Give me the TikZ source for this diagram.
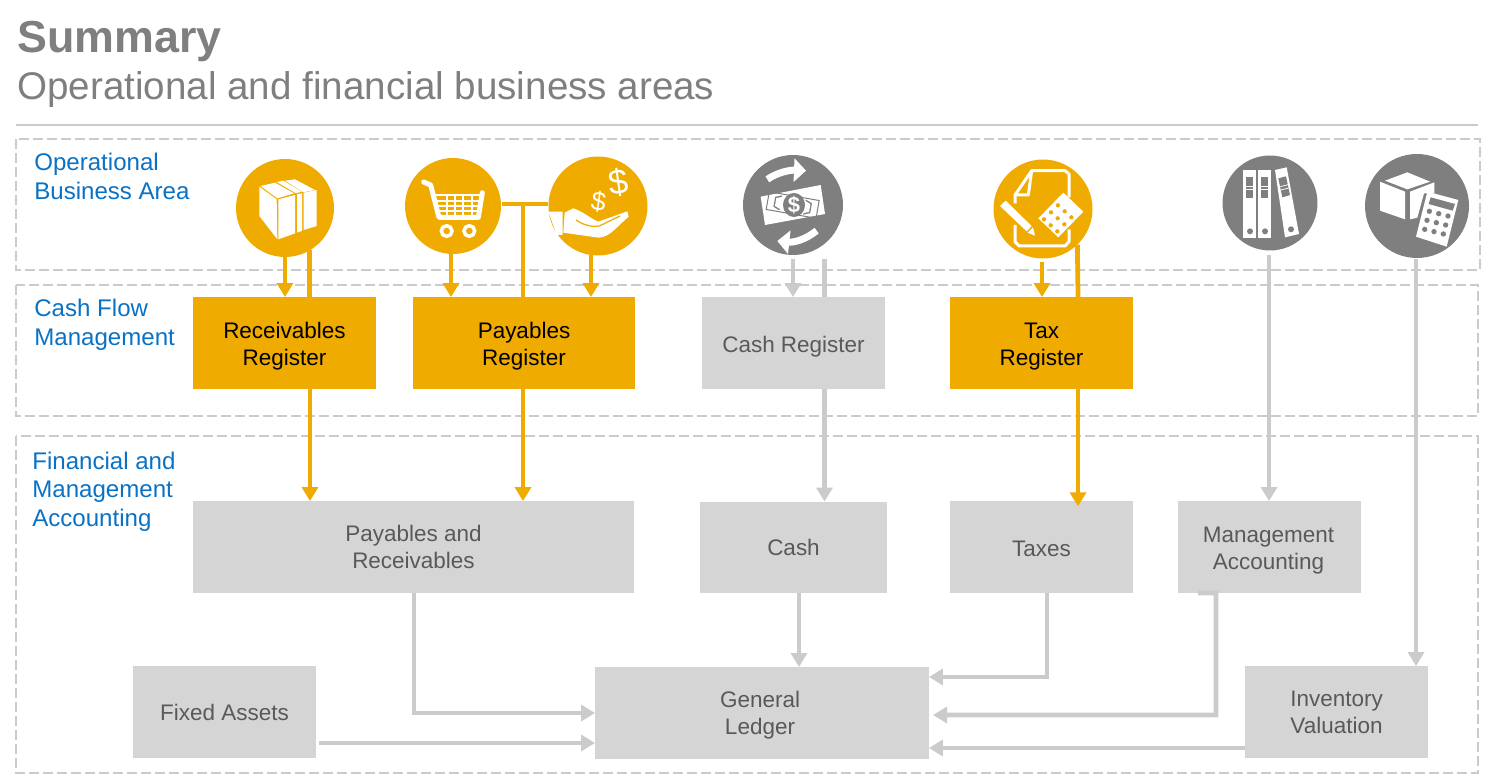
\documentclass[tikz,border=0pt]{standalone}
\usepackage{fontspec}
\setmainfont{Liberation Sans}
\usetikzlibrary{arrows.meta}

\definecolor{sapyellow}{HTML}{F0AB00}
\definecolor{boxgrey}{HTML}{D5D5D5}
\definecolor{linegrey}{HTML}{CBCBCB}
\definecolor{icongrey}{HTML}{7F7F7F}
\definecolor{textgrey}{HTML}{595959}
\definecolor{areablue}{HTML}{0A72C4}
\definecolor{titlegrey}{HTML}{7F7F7F}

\newcommand{\dropline}[1]{\rule{0pt}{#1}}

\tikzset{
  areabox/.style = {draw=linegrey, line width=0.4mm, dash pattern=on 2mm off 0.8mm},
  arealabel/.style = {text=areablue, anchor=west, align=left, inner sep=0, font=\fontsize{13.7}{16.3}\selectfont},
  greybox/.style = {fill=boxgrey, text=textgrey, align=center, inner sep=0, outer sep=0,
    minimum width=36.6mm, minimum height=18.4mm, font=\fontsize{12.8}{15.4}\selectfont},
  yellowbox/.style = {greybox, fill=sapyellow, text=black},
  icon/.style = {circle, inner sep=0, outer sep=0},
  yellowedge/.style = {draw=sapyellow, line width=0.95mm},
  greyedge/.style = {draw=linegrey, line width=0.95mm},
  tip/.style = {-{Triangle[length=2.8mm,width=3.2mm]}},
  glyph/.style = {fill=white, draw=none},
  dollar/.style = {text=white, inner sep=0},
}

\begin{document}
\begin{tikzpicture}[x=0.02cm,y=-0.02cm]
      \useasboundingbox (0,0) rectangle (1500,780);

      % Title
      \node[anchor=base west, inner sep=0, text=titlegrey, font=\fontsize{25.5}{28}\selectfont\bfseries] (title) at (17,53) {Summary};
      \node[anchor=base west, inner sep=0, text=titlegrey, font=\fontsize{21.96}{24}\selectfont] (subtitle) at (17,100) {Operational and financial business areas};
      \coordinate (ruleL) at (16,125);
      \coordinate (ruleR) at (1478,125);
      \draw[draw=linegrey, line width=0.4mm] (ruleL) -- (ruleR);

      % Areas
      \draw[areabox] (16,139) rectangle (1480,270);
      \draw[areabox] (16,285) rectangle (1478,416);
      \draw[areabox] (16,436) rectangle (1478,773);
      \node[arealabel] (oparea) at (34,176.5) {Operational\\Business Area};
      \node[arealabel] (cfarea) at (34,324.5) {Cash Flow\\Management};
      \node[arealabel] (fmarea) at (32,491.5) {Financial and\\Management\\Accounting};

      % Icons
      \node[icon, fill=sapyellow, minimum size=19.6mm] (boxicon) at (285,208) {};
      \node[icon, fill=sapyellow, minimum size=19.2mm] (carticon) at (453,206) {};
      \node[icon, fill=sapyellow, minimum size=19.8mm] (handicon) at (598,206) {};
      \node[icon, fill=icongrey, minimum size=20mm] (cashicon) at (793,205) {};
      \node[icon, fill=sapyellow, minimum size=19.8mm] (taxicon) at (1043,209) {};
      \node[icon, fill=icongrey, minimum size=19mm] (bindericon) at (1270,203) {};
      \node[icon, fill=icongrey, minimum size=20.8mm] (stockicon) at (1417,206) {};

      % Registers
      \node[yellowbox] (recvreg) at (284.5,343) {\dropline{13pt}Receivables\\Register};
      \node[yellowbox, minimum width=44.4mm] (payreg) at (524,343) {\dropline{13pt}Payables\\Register};
      \node[greybox] (cashreg) at (793.5,343) {\dropline{14pt}Cash Register};
      \node[yellowbox] (taxreg) at (1041.5,343) {\dropline{13pt}Tax\\Register};

      % Accounting
      \node[greybox, minimum width=88.2mm] (payrecv) at (413.5,547) {Payables and\\Receivables};
      \node[greybox, minimum width=37.4mm] (cash) at (793.5,547.5) {Cash};
      \node[greybox] (taxes) at (1041.5,547) {\dropline{11pt}Taxes};
      \node[greybox] (mgmt) at (1269.5,547) {\dropline{13pt}\hspace*{-0.4mm}Management\\\hspace*{-0.4mm}Accounting};
      \node[greybox] (fixed) at (224.5,712) {Fixed Assets};
      \node[greybox, minimum width=66.8mm] (ledger) at (762,713) {\dropline{11.3pt}\hspace*{-0.8mm}General\\\hspace*{-0.8mm}Ledger};
      \node[greybox] (stock) at (1336.5,712) {Inventory\\Valuation};

      % Edges
      \coordinate (recvA) at (285,0);
      \coordinate (recvB) at (310,0);
      \coordinate (cartA) at (451,0);
      \coordinate (handA) at (591,0);
      \coordinate (payT) at (523,0);
      \coordinate (cashA) at (793,259);
      \coordinate (cashB) at (824.5,259);
      \coordinate (taxA) at (1042,262);
      \coordinate (taxB) at (1078,0);
      \coordinate (binderA) at (1269,255);
      \coordinate (stockA) at (1416,259);
      \coordinate (teeL) at (502,204);
      \coordinate (teeR) at (548,204);
      \coordinate (teeM) at (523,204);
      \draw[yellowedge, tip] (boxicon.south -| recvA) -- (recvreg.north -| recvA);
      \draw[yellowedge] (boxicon.-60) -- (boxicon.-60 |- recvreg.north);
      \draw[yellowedge, tip] (carticon.south -| cartA) -- (payreg.north -| cartA);
      \draw[yellowedge, tip] (handicon.south -| handA) -- (payreg.north -| handA);
      \draw[yellowedge] (teeL) -- (teeR);
      \draw[yellowedge] (teeM) -- (payreg.north -| teeM);
      \draw[greyedge, tip] (cashA) -- (cashreg.north -| cashA);
      \draw[greyedge] (cashB) -- (cashreg.north -| cashB);
      \draw[yellowedge, tip] (taxA) -- (taxreg.north -| taxA);
      \draw[yellowedge] (taxicon.-46) -- (taxreg.north -| taxB);
      \draw[greyedge, tip] (binderA) -- (mgmt.north -| binderA);
      \draw[greyedge, tip] (stockA) -- (stock.north -| stockA);
      \draw[yellowedge, tip] (recvreg.south -| recvB) -- (payrecv.north -| recvB);
      \draw[yellowedge, tip] (payreg.south -| payT) -- (payrecv.north -| payT);
      \draw[greyedge, tip] (cashreg.south -| cashB) -- (cash.north -| cashB);
      \draw[yellowedge, tip] (taxreg.south -| taxB) -- ([yshift=-3pt]taxes.north -| taxB);

      % Edges to the ledger
      \coordinate (prA) at (414,0);
      \coordinate (cashC) at (799,0);
      \coordinate (taxC) at (1047,677);
      \coordinate (mgmtC) at (1216,715);
      \coordinate (mgmtD) at (1198,593);
      \coordinate (stockC) at (1245,748);
      \coordinate (fixedC) at (319,743);
      \coordinate (ledgerIn) at (933,715);
      \draw[greyedge, tip] (payrecv.south -| prA) |- (ledger.west);
      \draw[greyedge, tip] (cash.south -| cashC) -- (ledger.north -| cashC);
      \draw[greyedge, tip] (taxes.south -| taxC) -- (taxC) -- (ledger.east |- taxC);
      \draw[greyedge, tip] (mgmtD) -- (mgmt.south -| mgmtC) -- (mgmtC) -- (ledgerIn);
      \draw[greyedge, tip] (stockC) -- (ledger.east |- stockC);
      \draw[greyedge, tip] (fixedC) -- (ledger.west |- fixedC);

      % Box glyph
      \begin{scope}[shift={(220,140)},scale=1/3]
        \fill[glyph] (118,140) -- (170,178) -- (172,298) -- (118,228) -- cycle;
        \fill[glyph] (175,178) -- (225,165) -- (225,280) -- (175,298) -- cycle;
        \fill[glyph] (231,163) -- (246,160) -- (246,273) -- (231,278) -- cycle;
        \fill[glyph] (251,158) -- (290,150) -- (290,258) -- (251,270) -- cycle;
        \fill[glyph] (122,138) -- (165,128) -- (222,160) -- (172,175) -- cycle;
        \fill[glyph] (170,126) -- (190,122) -- (245,155) -- (228,160) -- cycle;
        \fill[glyph] (195,122) -- (225,118) -- (285,150) -- (250,157) -- cycle;
      \end{scope}

      % Cart glyph
      \begin{scope}[shift={(220,140)},scale=1/3]
        \draw[white, line width=1mm, line cap=round, line join=round] (611,126) -- (632,135) -- (657,232) -- (775,232) -- (787,158);
        \draw[white, line width=0.35mm] (640,165) -- (787,165);
        \foreach \rowy in {182,198,214}
          \draw[white, line width=0.35mm] (645,\rowy) -- (782,\rowy);
        \foreach \colx in {680,705,730,755}
          \draw[white, line width=0.35mm] (\colx,165) -- (\colx,232);
        \foreach \wheelx in {680,748}
          \draw[white, line width=0.7mm] (\wheelx,273) circle (16);
      \end{scope}

      % Hand glyph
      \begin{scope}[shift={(220,140)},scale=1/3]
        \fill[white] (985,215) -- (1028,215) -- (1028,285) -- (1010,285) -- cycle;
        \fill[glyph] (1034,218) -- (1060,205) .. controls (1090,215) and (1110,235) .. (1135,245) -- (1222,214) -- (1226,230) .. controls (1190,260) and (1170,292) .. (1135,293) -- (1030,278) -- cycle;
        \draw[sapyellow, line width=0.25mm] (1068,240) .. controls (1090,255) and (1115,262) .. (1138,258) -- (1200,228);
        \node[dollar, rotate=-8, font=\fontsize{15}{15}\selectfont] (dollarA) at (1136,185) {\$};
        \node[dollar, rotate=8, font=\fontsize{20}{20}\selectfont] (dollarB) at (1197,128) {\$};
      \end{scope}

      % Cash glyph
      \begin{scope}[shift={(730,140)},scale=1/3]
        \fill[glyph] (92,170) -- (272,135) -- (285,222) -- (105,255) -- cycle;
        \draw[icongrey, line width=0.2mm, rotate around={-10:(188,195)}] (112,168) rectangle (264,222);
        \fill[icongrey, rotate around={-10:(188,195)}] (132,180) -- (152,172) -- (152,218) -- (132,210) -- cycle;
        \fill[icongrey, rotate around={-10:(188,195)}] (244,180) -- (224,172) -- (224,218) -- (244,210) -- cycle;
        \fill[white, rotate around={-10:(188,195)}] (136,183) -- (154,176) -- (222,176) -- (240,183) -- (240,207) -- (222,214) -- (154,214) -- (136,207) -- cycle;
        \fill[icongrey] (192,195) ellipse (33 and 36);
        \node[dollar, font=\fontsize{12.5}{12.5}\selectfont\bfseries] (dollarC) at (192,196) {\$};
        \draw[white, line width=1.4mm, -{Triangle[length=2.4mm,width=4.6mm]}] (112,118) .. controls (145,96) and (180,90) .. (228,92);
        \draw[white, line width=1.4mm, -{Triangle[length=2.4mm,width=4.6mm]}] (260,272) .. controls (225,300) and (190,308) .. (142,303);
      \end{scope}

      % Tax glyph
      \begin{scope}[shift={(730,140)},scale=1/3]
        \draw[white, line width=0.6mm, line join=round] (855,190) -- (855,165) -- (905,92) -- (1005,92) -- (1017,102) -- (1017,172);
        \draw[white, line width=0.6mm, line join=round] (905,92) -- (895,165) -- (855,165);
        \draw[white, line width=0.6mm, line join=round] (855,255) -- (855,305) -- (868,318) -- (1005,318) -- (1017,305) -- (1017,268);
        \fill[glyph] (810,198) -- (827,182) -- (905,258) -- (890,274) -- cycle;
        \fill[glyph] (893,278) -- (909,262) -- (915,287) -- cycle;
        \fill[glyph] (925,235) -- (1000,158) -- (1060,215) -- (985,292) -- cycle;
        \foreach \rowi in {0,1,2}
          \foreach \coli in {0,1,2}
            \fill[sapyellow] (942+\coli*21+\rowi*20,238-\coli*21+\rowi*18) circle (6.5);
      \end{scope}

      % Binder glyph
      \begin{scope}[shift={(1200,140)},scale=1/3]
        \foreach \binderx in {130,175} {
          \fill[glyph] (\binderx,90) rectangle (\binderx+38,295);
          \fill[icongrey] (\binderx+8,112) rectangle (\binderx+30,175);
          \draw[white, line width=0.15mm] (\binderx+8,138) -- (\binderx+30,138) (\binderx+8,148) -- (\binderx+30,148);
          \fill[icongrey] (\binderx+20,274) circle (9);
        }
        \fill[glyph] (225,90) -- (260,82) -- (297,282) -- (255,292) -- cycle;
        \fill[icongrey] (235,115) -- (258,109) -- (270,165) -- (247,172) -- cycle;
        \draw[white, line width=0.15mm] (241,140) -- (264,134) (243,150) -- (266,144);
        \fill[icongrey] (273,268) circle (9);
      \end{scope}

      % Inventory glyph
      \begin{scope}[shift={(1200,140)},scale=1/3]
        \fill[glyph] (555,122) -- (622,97) -- (690,125) -- (622,148) -- cycle;
        \fill[glyph] (540,125) -- (615,155) -- (615,238) -- (540,212) -- cycle;
        \fill[glyph] (630,155) -- (703,127) -- (703,160) -- (672,160) -- (652,233) -- (630,238) -- cycle;
        \fill[glyph] (682,155) -- (775,180) -- (740,320) -- (648,290) -- cycle;
        \fill[icongrey] (692,172) -- (765,192) -- (758,212) -- (686,192) -- cycle;
        \foreach \rowi in {0,1,2}
          \foreach \coli in {0,1,2}
            \fill[icongrey] (688+\coli*28-\rowi*7,214+\coli*7+\rowi*27) circle (8);
      \end{scope}
    \end{tikzpicture}
\end{document}
